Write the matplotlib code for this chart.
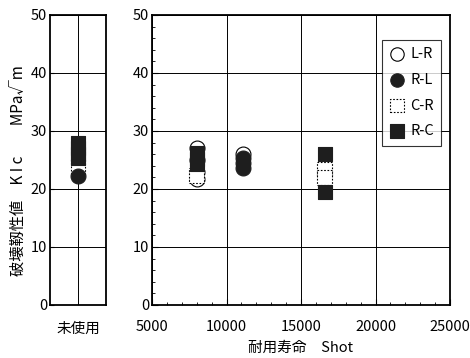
import matplotlib
matplotlib.use("Agg")
import matplotlib.pyplot as plt
from matplotlib.ticker import MultipleLocator

plt.rcParams['font.family'] = ['Noto Sans CJK JP', 'DejaVu Sans']

# ---- data ----
series = ["L-R", "R-L", "C-R", "R-C"]
category_unused = "未使用"

# unused (new) tool values
unused_LR = []
unused_RL = [22.3]
unused_CR = [23.9]
unused_RC = [28.0, 27.0, 26.0, 25.4]

# values after use: (shot, KIc)
LR_shot = [8000, 8000, 8000, 8000, 11100]
LR_kic = [27.0, 25.0, 23.0, 21.8, 26.0]
RL_shot = [11100, 11100, 11100]
RL_kic = [25.4, 24.5, 23.7]
CR_shot = [8000, 16600, 16600]
CR_kic = [22.4, 23.4, 22.0]
RC_shot = [8000, 8000, 8000, 16600, 16600]
RC_kic = [26.2, 25.2, 24.3, 26.0, 19.5]

xticks = [5000, 10000, 15000, 20000, 25000]
yticks = [0, 10, 20, 30, 40, 50]

dark = "#1e1e1e"
S = 115

styles = {
    "L-R": dict(marker="o", facecolors="white", edgecolors="black", linewidths=0.8, zorder=3),
    "R-L": dict(marker="o", facecolors=dark, edgecolors=dark, linewidths=0.8, zorder=5),
    "C-R": dict(marker="s", facecolors="white", edgecolors="black", linewidths=0.8,
                linestyles=(0, (1.5, 1.5)), zorder=4),
    "R-C": dict(marker="s", facecolors=dark, edgecolors=dark, linewidths=0.8, zorder=6),
}

fig = plt.figure(figsize=(4.7, 3.58), dpi=100)
axL = fig.add_axes([50/470, 53/358, 56/470, 290/358])
axR = fig.add_axes([152/470, 53/358, 298/470, 290/358])

fs = 10.5

# left panel
unused = {"L-R": unused_LR, "R-L": unused_RL, "C-R": unused_CR, "R-C": unused_RC}
for name in series:
    vals = unused[name]
    if vals:
        axL.scatter([0]*len(vals), vals, s=S, **styles[name])
axL.set_xlim(-1, 1)
axL.set_ylim(0, 50)
axL.set_yticks(yticks)
axL.set_xticks([0])
axL.set_xticklabels([category_unused], fontsize=fs)
axL.tick_params(axis='x', length=0, pad=12)
axL.tick_params(axis='y', direction='in', length=3, labelsize=fs, pad=2)
axL.grid(True, color='black', linewidth=0.7)

# right panel
data = {"L-R": (LR_shot, LR_kic), "R-L": (RL_shot, RL_kic),
        "C-R": (CR_shot, CR_kic), "R-C": (RC_shot, RC_kic)}
handles = []
for name in series:
    xs, ys = data[name]
    h = axR.scatter(xs, ys, s=S, label=name, **styles[name])
    handles.append(h)
axR.set_xlim(5000, 25000)
axR.set_ylim(0, 50)
axR.set_xticks(xticks)
axR.set_yticks(yticks)
axR.xaxis.set_minor_locator(MultipleLocator(1000))
axR.yaxis.set_minor_locator(MultipleLocator(2))
axR.tick_params(which='both', direction='in', labelsize=fs)
axR.tick_params(which='major', length=4)
axR.tick_params(which='minor', length=2)
axR.tick_params(axis='y', pad=2)
axR.tick_params(axis='x', pad=11)
axR.grid(True, which='major', color='black', linewidth=0.7)
axR.set_xlabel("耐用寿命　Shot", fontsize=fs, labelpad=5)

for ax in (axL, axR):
    for sp in ax.spines.values():
        sp.set_linewidth(1.3)
    ax.set_axisbelow(True)

leg = axR.legend(handles=handles, loc='upper right', bbox_to_anchor=(0.970, 0.914),
                 borderaxespad=0, fontsize=fs, frameon=True, fancybox=False,
                 edgecolor='black', labelspacing=0.8, handletextpad=0.4,
                 borderpad=0.5, handlelength=1.0, scatterpoints=1, markerscale=0.9)
leg.get_frame().set_linewidth(0.8)

fig.text(18/470, 1 - 171/358, "破壊靱性値　K I c　　MPa√m", rotation=90,
         ha='center', va='center', fontsize=11)

fig.savefig("out.png", dpi=100)
